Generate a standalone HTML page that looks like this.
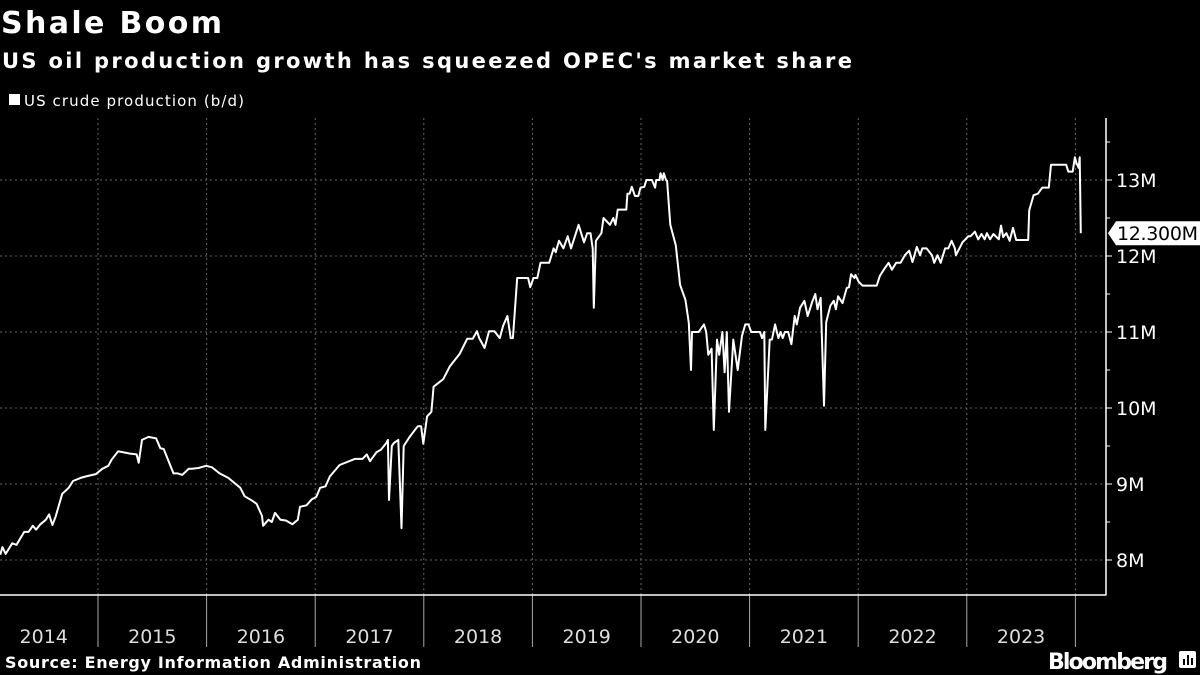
<!DOCTYPE html>
<html><head><meta charset="utf-8">
<style>
html,body{margin:0;padding:0;background:#000;width:1200px;height:675px;overflow:hidden}
svg{display:block}
text{font-family:"DejaVu Sans","Liberation Sans",sans-serif}
</style></head>
<body>
<svg id="chart" width="1200" height="675" viewBox="0 0 1200 675">
  <text x="1" y="33" fill="#fff" font-size="30" font-weight="bold" textLength="221">Shale Boom</text>
  <text x="2" y="68" fill="#fff" font-size="21" font-weight="bold" textLength="850">US oil production growth has squeezed OPEC's market share</text>
  <rect x="9" y="94" width="11" height="11" fill="#fff"/>
  <text x="24" y="106" fill="#fff" font-size="15" textLength="220">US crude production (b/d)</text>
  <g id="grid"></g>
  <g id="axes"></g>
  <path id="line" fill="none" stroke="#fff" stroke-width="2" stroke-linejoin="round"/>
  <g id="lastlabel"></g>
  <text x="5" y="668" fill="#fff" font-size="16" font-weight="bold" textLength="416">Source: Energy Information Administration</text>
  <text x="1048" y="669" fill="#fff" font-size="22" font-weight="bold" textLength="120">Bloomberg</text>
  <g>
    <rect x="1179" y="651" width="17" height="17" rx="2" fill="#fff"/>
    <rect x="1183" y="659" width="2" height="6" fill="#000"/>
    <rect x="1187" y="655" width="2" height="10" fill="#000"/>
    <rect x="1191" y="658" width="2" height="7" fill="#000"/>
  </g>
</svg>
<script>
const dates=[2014.10,2014.12,2014.15,2014.21,2014.25,2014.32,2014.36,2014.40,2014.43,2014.47,2014.52,2014.55,2014.58,2014.61,2014.67,2014.73,2014.77,2014.84,2014.89,2014.98,2015.04,
2015.095,2015.125,2015.185,2015.225,2015.295,2015.355,2015.375,2015.405,2015.465,2015.535,2015.575,2015.605,2015.645,2015.695,2015.735,2015.775,2015.835,2015.865,2015.925,2015.995,
2016.05,2016.12,2016.20,2016.31,2016.35,2016.42,2016.46,2016.51,2016.52,2016.57,2016.60,2016.63,2016.68,2016.73,2016.79,2016.84,2016.86,2016.92,2016.97,2017.01,
2017.045,2017.095,2017.135,2017.225,2017.365,2017.435,2017.475,2017.505,2017.565,2017.605,2017.655,2017.669,2017.68,2017.705,2017.725,2017.765,2017.795,2017.815,2017.875,2017.945,2017.975,2017.995,
2018.03,2018.07,2018.09,2018.18,2018.24,2018.33,2018.40,2018.45,2018.49,2018.51,2018.56,2018.60,2018.65,2018.70,2018.73,2018.77,2018.80,2018.82,2018.86,2018.89,2018.96,2018.98,2019.01,
2019.045,2019.075,2019.155,2019.195,2019.215,2019.245,2019.285,2019.325,2019.355,2019.425,2019.475,2019.505,2019.535,2019.555,2019.565,2019.585,2019.635,2019.655,2019.715,2019.745,2019.765,2019.785,2019.865,2019.875,2019.895,2019.915,2019.945,2019.975,2019.995,
2020.03,2020.05,2020.10,2020.13,2020.14,2020.17,2020.18,2020.20,2020.21,2020.23,2020.24,2020.27,2020.32,2020.36,2020.41,2020.44,2020.46,2020.47,2020.53,2020.58,2020.60,2020.62,2020.65,2020.67,2020.70,2020.72,2020.75,2020.77,2020.79,2020.81,2020.85,2020.89,2020.93,2020.96,2020.99,
2021.015,2021.095,2021.115,2021.135,2021.145,2021.185,2021.205,2021.235,2021.265,2021.285,2021.305,2021.325,2021.355,2021.385,2021.415,2021.435,2021.465,2021.505,2021.535,2021.555,2021.575,2021.605,2021.625,2021.655,2021.685,2021.705,2021.745,2021.775,2021.795,2021.815,2021.855,2021.895,2021.915,2021.935,2021.965,2021.975,2022.005,
2022.04,2022.17,2022.20,2022.24,2022.28,2022.31,2022.35,2022.39,2022.43,2022.47,2022.50,2022.54,2022.57,2022.59,2022.63,2022.68,2022.70,2022.73,2022.76,2022.80,2022.83,2022.86,2022.89,2022.90,2022.96,
2023.015,2023.035,2023.075,2023.105,2023.135,2023.165,2023.185,2023.215,2023.245,2023.295,2023.315,2023.335,2023.365,2023.395,2023.425,2023.455,2023.565,2023.575,2023.615,2023.655,2023.695,2023.755,2023.775,2023.915,2023.935,2023.975,2023.995,
2024.01,2024.03,2024.04,2024.05];
const values=[8.07,8.17,8.08,8.22,8.20,8.37,8.37,8.45,8.40,8.47,8.53,8.60,8.46,8.57,8.87,8.95,9.04,9.08,9.10,9.13,9.20,
9.24,9.32,9.43,9.42,9.40,9.39,9.28,9.58,9.62,9.60,9.47,9.46,9.32,9.14,9.14,9.12,9.20,9.20,9.21,9.24,
9.22,9.14,9.08,8.95,8.84,8.78,8.74,8.58,8.45,8.53,8.50,8.62,8.53,8.52,8.47,8.53,8.70,8.72,8.80,8.83,
8.95,8.97,9.10,9.25,9.33,9.33,9.39,9.30,9.42,9.45,9.54,9.58,8.79,9.50,9.54,9.58,8.42,9.50,9.63,9.76,9.76,9.53,
9.89,9.95,10.28,10.38,10.55,10.71,10.91,10.91,11.01,10.92,10.79,11.01,11.01,10.92,11.08,11.21,10.92,10.92,11.71,11.71,11.71,11.59,11.71,
11.71,11.91,11.91,12.10,12.05,12.20,12.10,12.26,12.10,12.41,12.18,12.30,12.30,12.10,11.32,12.20,12.30,12.50,12.41,12.50,12.41,12.61,12.61,12.82,12.82,12.91,12.79,12.79,12.90,
12.91,13.00,13.00,12.90,13.00,13.00,13.09,13.00,13.09,13.00,12.99,12.41,12.14,11.62,11.42,11.12,10.50,11.00,11.00,11.10,11.00,10.70,10.78,9.71,10.90,10.70,11.00,10.47,11.00,9.95,10.90,10.50,10.95,11.10,11.10,
11.00,11.00,10.92,11.00,9.71,10.90,10.90,11.10,10.92,11.00,10.92,11.00,11.00,10.84,11.21,11.10,11.32,11.41,11.21,11.30,11.39,11.50,11.30,11.45,10.03,11.13,11.35,11.41,11.30,11.47,11.38,11.58,11.59,11.76,11.71,11.75,11.66,
11.61,11.61,11.74,11.83,11.91,11.82,11.91,11.91,12.01,12.07,11.92,12.12,12.01,12.10,12.10,12.01,11.91,12.01,11.91,12.10,12.10,12.20,12.10,12.01,12.18,
12.26,12.26,12.32,12.22,12.29,12.22,12.30,12.22,12.29,12.22,12.40,12.25,12.30,12.20,12.37,12.21,12.21,12.60,12.80,12.82,12.90,12.90,13.20,13.20,13.11,13.11,13.30,
13.22,13.16,13.30,12.30];
const yTicks=[8,9,10,11,12,13];
const yTickLabels=["8M","9M","10M","11M","12M","13M"];
const years=[2014,2015,2016,2017,2018,2019,2020,2021,2022,2023];
const lastLabel="12.300M";

const NS="http://www.w3.org/2000/svg";
const X0=-10.6, PXY=108.6, AXR=1106, TOP=118, BOT=595;
function xs(t){return X0+(t-2014)*PXY;}
function ys(v){return 180+(13-v)*76;}
function mk(tag,attrs,parent){const e=document.createElementNS(NS,tag);for(const k in attrs)e.setAttribute(k,attrs[k]);parent.appendChild(e);return e;}
const grid=document.getElementById('grid'), axes=document.getElementById('axes');
yTicks.forEach((v,i)=>{
  const y=ys(v);
  const g=mk('line',{x1:0,x2:AXR,y1:y,y2:y,stroke:'#666','stroke-width':1,'stroke-dasharray':'2,3'},grid);
  
  
  const t=mk('line',{x1:AXR,x2:AXR+6,y1:y,y2:y,stroke:'#fff','stroke-width':1},axes);
  
  
  const lb=mk('text',{x:AXR+10,y:y+7,fill:'#fff','font-size':19},axes);
  lb.textContent=yTickLabels[i];
  
  
  const ym=ys(v+0.5);
  const m=mk('line',{x1:AXR,x2:AXR+4,y1:ym,y2:ym,stroke:'#fff','stroke-width':1},axes);
  
  
});
years.forEach((yr,i)=>{
  const x=xs(yr+1);
  const g=mk('line',{x1:x,x2:x,y1:TOP,y2:BOT,stroke:'#666','stroke-width':1,'stroke-dasharray':'2,3'},grid);
  
  
  const t=mk('line',{x1:x,x2:x,y1:BOT,y2:647,stroke:'#aaa','stroke-width':1},axes);
  
  
  const lb=mk('text',{x:(xs(yr)+xs(yr+1))/2,y:643,fill:'#ddd','font-size':19,'text-anchor':'middle'},axes);
  lb.textContent=String(yr);
  
  
});
const ax=mk('line',{x1:AXR,x2:AXR,y1:TOP,y2:BOT+0.5,stroke:'#fff','stroke-width':1.5},axes);


const bx=mk('line',{x1:0,x2:AXR,y1:BOT,y2:BOT,stroke:'#fff','stroke-width':1.5},axes);


let d='';
dates.forEach((t,i)=>{d+=(i?'L':'M')+xs(t).toFixed(1)+','+ys(values[i]).toFixed(1);});
document.getElementById('line').setAttribute('d',d);
const ll=document.getElementById('lastlabel');
const ly=ys(values[values.length-1]);
const poly=mk('path',{d:`M1108,${ly} L1116,${ly-12} L1200,${ly-12} L1200,${ly+12} L1116,${ly+12} Z`,fill:'#fff'},ll);


const lt=mk('text',{x:1117,y:ly+7,fill:'#000','font-size':19,textLength:81},ll);
lt.textContent=lastLabel;


</script>
</body></html>
